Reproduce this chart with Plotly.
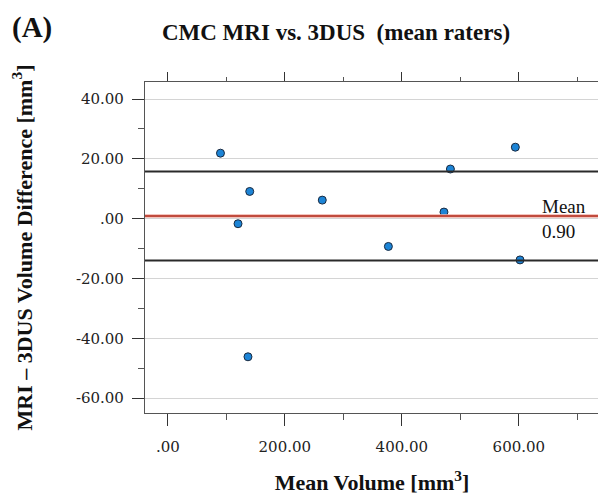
import plotly.graph_objects as go

mean_volume = [90, 140, 120, 264, 377, 472, 483, 594, 602, 137]
difference = [21.9, 9.1, -1.7, 6.2, -9.3, 2.2, 16.6, 23.9, -13.8, -46.2]
mean_diff = 0.90
upper_loa = 15.8
lower_loa = -14.0
x_ticks = [0, 200, 400, 600]
x_tick_labels = [".00", "200.00", "400.00", "600.00"]
y_ticks = [40, 20, 0, -20, -40, -60]
y_tick_labels = ["40.00", "20.00", ".00", "-20.00", "-40.00", "-60.00"]

serif = "Liberation Serif, Times New Roman, serif"
tickserif = "DejaVu Serif, serif"
x_range = [-39, 737]
y_range = [-65, 45.7]

fig = go.Figure()

for val in [upper_loa, lower_loa]:
    fig.add_hline(y=val, line=dict(color="#2a2a2a", width=2))
fig.add_hline(y=mean_diff, line=dict(color="#f0b0a8", width=3.5))
fig.add_hline(y=mean_diff, line=dict(color="#b02a1a", width=1.6))

fig.add_trace(go.Scatter(
    x=mean_volume, y=difference, mode="markers",
    marker=dict(size=8, color="#1c84d6", line=dict(color="#1a2a40", width=1)),
    showlegend=False, hoverinfo="x+y",
))
# invisible trace to anchor the top tick axis
fig.add_trace(go.Scatter(
    x=mean_volume, y=difference, mode="markers", xaxis="x2",
    marker=dict(size=1, opacity=0), showlegend=False, hoverinfo="skip",
))

fig.add_annotation(x=636, xref="x", y=mean_diff, yref="y",
                   text="Mean<br>0.90", showarrow=False, xanchor="left", yanchor="middle",
                   yshift=-3, align="left",
                   font=dict(family=serif, size=19, color="#111"))

fig.update_layout(
    width=598, height=491,
    margin=dict(l=137, r=7, t=74, b=86, autoexpand=False),
    paper_bgcolor="white", plot_bgcolor="white",
    font=dict(family=serif, color="#222"),
    xaxis=dict(
        automargin=False,
        range=x_range, tickvals=x_ticks, ticktext=x_tick_labels,
        ticks="outside", ticklen=12, tickwidth=1.2, tickcolor="#333",
        minor=dict(tickvals=[100, 300, 500, 700], ticks="outside", ticklen=6, tickcolor="#555", showgrid=False),
        showgrid=False, zeroline=False,
        showline=True, linecolor="#555", linewidth=1.2, mirror=True,
        ticklabelstandoff=8,
        tickfont=dict(family=tickserif, size=15, color="#222"),
        title=dict(text="<b>Mean Volume [mm<sup>3</sup>]</b>", font=dict(family=serif, size=22, color="#111"), standoff=19),
    ),
    xaxis2=dict(
        automargin=False,
        overlaying="x", side="top", range=x_range, tickvals=x_ticks,
        showticklabels=False, ticks="outside", ticklen=9, tickwidth=1.2, tickcolor="#333",
        minor=dict(tickvals=[100, 300, 500, 700], ticks="outside", ticklen=4, tickcolor="#555", showgrid=False),
        showgrid=False, zeroline=False, showline=False,
    ),
    yaxis=dict(
        automargin=False,
        range=y_range, tickvals=y_ticks, ticktext=y_tick_labels,
        ticks="outside", ticklen=12, tickwidth=1.2, tickcolor="#333",
        minor=dict(tickvals=[30, 10, -10, -30, -50], ticks="outside", ticklen=6, tickcolor="#555", showgrid=False),
        showgrid=True, gridcolor="#d4d4d4", gridwidth=1.2, zeroline=False,
        showline=True, linecolor="#555", linewidth=1.2, mirror=True,
        ticklabelstandoff=5,
        tickfont=dict(family=tickserif, size=15, color="#222"),
        title=dict(text="<b>MRI – 3DUS Volume Difference [mm<sup>3</sup>]</b>", font=dict(family=serif, size=22, color="#111"), standoff=37),
    ),
    title=dict(text="<b>CMC MRI vs. 3DUS  (mean raters)</b>", x=0.5485, xanchor="center", y=0.951, yanchor="middle",
               font=dict(family=serif, size=23, color="#111")),
)
fig.add_annotation(text="<b>(A)</b>", xref="paper", yref="paper", x=-0.298, y=1.222,
                   xanchor="left", yanchor="top", showarrow=False,
                   font=dict(family=serif, size=29, color="#111"))

fig.write_html("out.html")
